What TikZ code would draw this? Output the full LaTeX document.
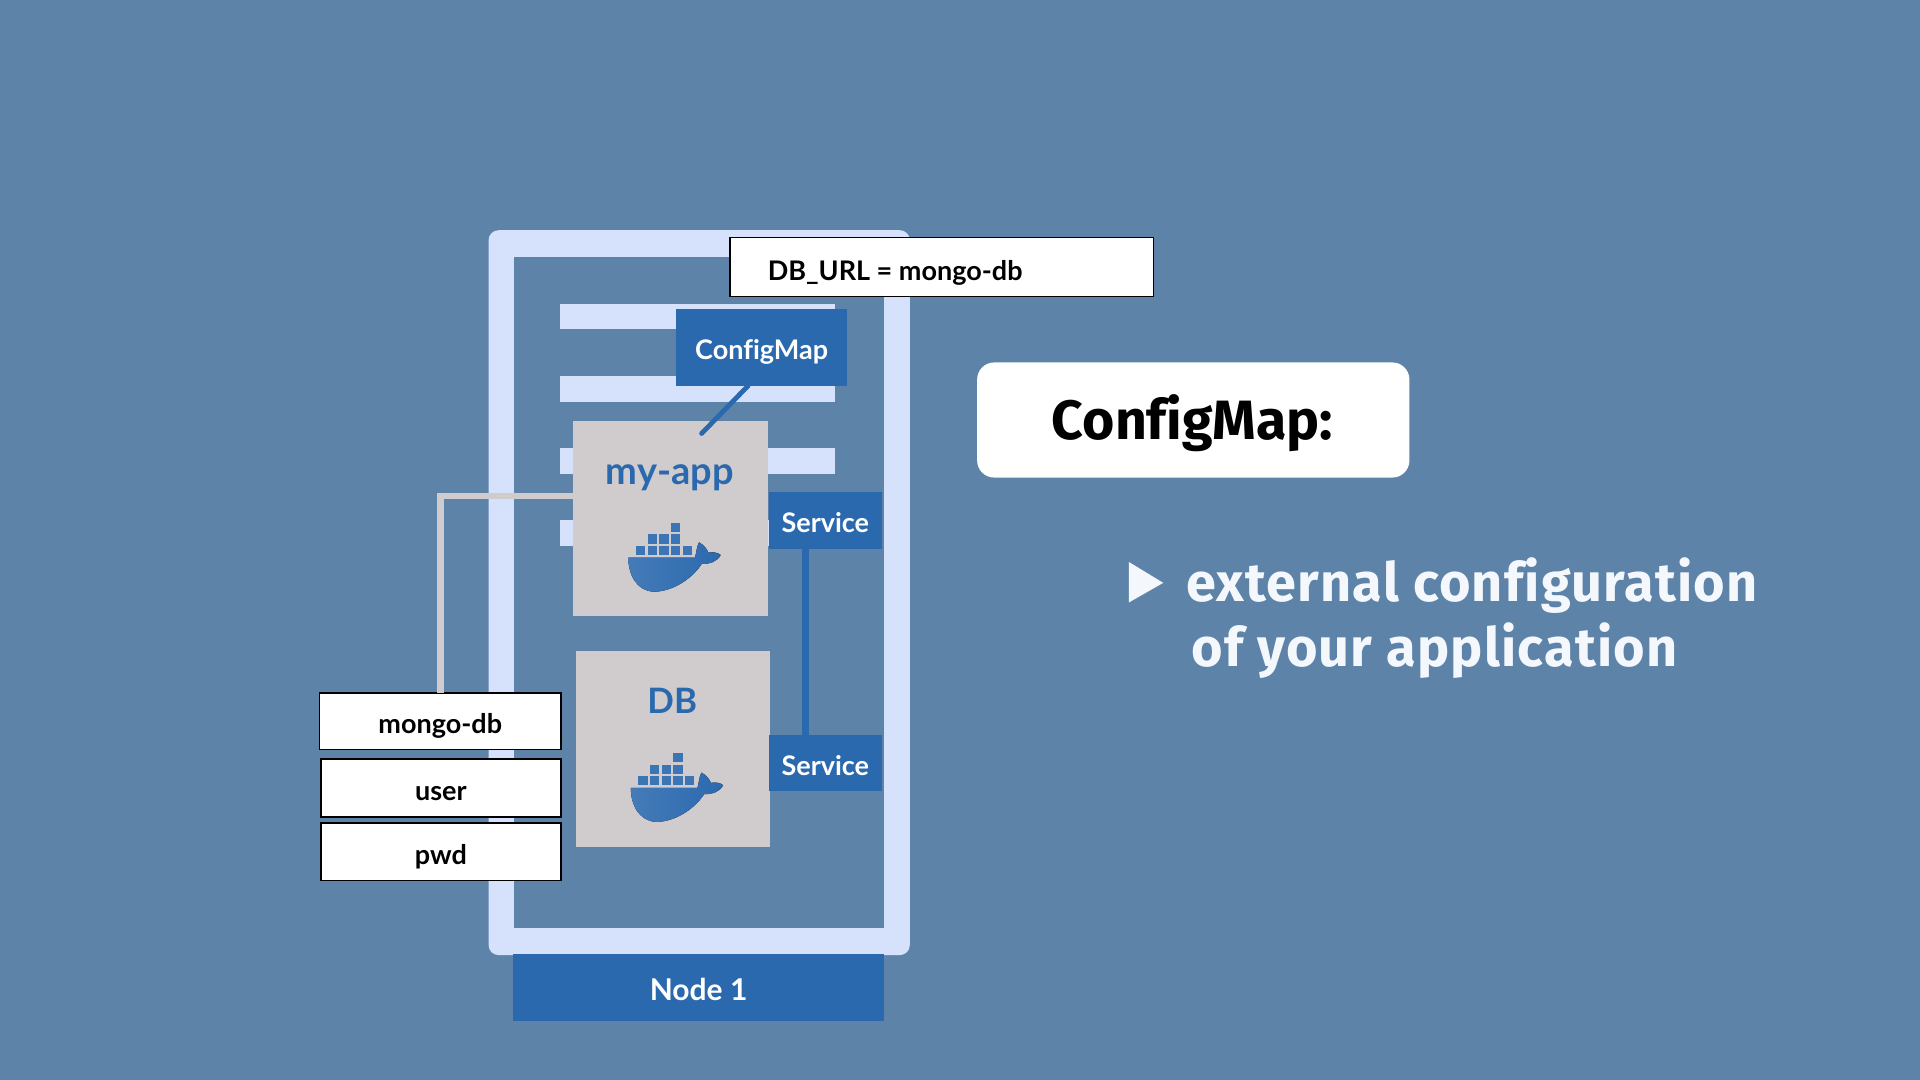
\documentclass[tikz,border=0pt]{standalone}
\usepackage{fontspec}
\setmainfont{Fira Sans}
\newfontfamily\hand[Ligatures=CommonOff]{Lato}
\newfontfamily\head[Ligatures=CommonOff]{Fira Sans}
\definecolor{bg}{HTML}{5D83A9}
\definecolor{framec}{HTML}{D6E2FB}
\definecolor{blue}{HTML}{2B69AE}
\definecolor{greyc}{HTML}{D0CCCD}
\definecolor{soft}{HTML}{F4F7FC}
\def\uu{0.61224pt}
\tikzset{
  every node/.style={inner sep=0pt,outer sep=0pt},
  whitebox/.style={fill=white,draw=black,line width=0.8pt,text=black,font=\hand\bfseries\fontsize{13.5}{16}\selectfont,text height=12.5pt,text depth=0pt},
  bluebox/.style={fill=blue,text=white,font=\hand\bfseries\fontsize{13.5}{16}\selectfont,text height=12.5pt,text depth=0pt},
  appbox/.style={fill=greyc},
  barbox/.style={fill=framec},
  applabel/.style={text=blue,font=\hand\bfseries\fontsize{19}{22}\selectfont},
  headtext/.style={text=soft,font=\head\bfseries\fontsize{27}{30}\addfontfeatures{LetterSpace=2.2}\selectfont,anchor=base west},
  link/.style={line width=3.4pt,blue},
  greylink/.style={line width=3.4pt,greyc},
}
\newcommand{\bx}[7][]{\node[#1,minimum width={(#5-#3)*\uu},minimum height={(#6-#4)*\uu}] (#2) at ({(#3+#5)/2},{(#4+#6)/2}) {#7};}
\newcommand{\whale}[2]{%
\begin{scope}[shift={(#1,#2)},scale=0.2722]
  \foreach \xx in {108,143,178,213,248} \fill[blue!92!white] (\xx,108) rectangle ++(28,26);
  \foreach \xx in {143,178,213} \fill[blue!92!white] (\xx,73) rectangle ++(28,28);
  \fill[blue!92!white] (213,38) rectangle ++(28,28);
  \fill[left color=blue!88!white,right color=blue]
    (85,143) -- (285,143) .. controls (290,125) and (290,110) .. (297,97)
    .. controls (312,105) and (322,118) .. (325,128)
    .. controls (340,125) and (354,128) .. (362,135)
    .. controls (352,155) and (330,162) .. (305,162)
    .. controls (275,208) and (215,246) .. (160,245)
    .. controls (110,242) and (85,195) .. (85,143) -- cycle;
\end{scope}}
\begin{document}
\begin{tikzpicture}[x=\uu,y=-\uu]
\fill[bg] (0,0) rectangle (1568,882);
\useasboundingbox (0,0) rectangle (1568,882);
% frame and inner bars
\bx[fill=framec,rounded corners=5pt]{frame}{399}{188}{743}{780}{}
\bx[fill=bg]{frameinner}{420}{210}{722}{758}{}
\bx[barbox]{barA}{457}{248}{682}{269}{}
\bx[barbox]{barB}{457}{307}{682}{328}{}
\bx[barbox]{barC}{457}{366}{682}{387}{}
\bx[barbox]{barD}{457}{425}{682}{446}{}
% pods
\bx[appbox]{app}{468}{344}{627}{503}{}
\bx[appbox]{db}{470}{532}{629}{692}{}
\node[applabel] (applbl) at (547,390) {my-app};
\node[applabel,font=\hand\bfseries\fontsize{17.5}{20}\selectfont] (dblbl) at (549,572) {DB};
\whale{490}{416.5}
\whale{492}{604.5}
% blue boxes
\bx[bluebox]{cfg}{552}{252}{692}{315}{ConfigMap}
\bx[bluebox]{svcA}{628}{402}{720}{448}{Service}
\bx[bluebox]{svcB}{628}{600}{720}{646}{Service}
\bx[bluebox]{nodeone}{419}{779}{722}{834}{\fontsize{15}{18}\selectfont Node 1}
% white boxes
\bx[whitebox]{mongo}{261}{566}{458}{612}{mongo-db}
\bx[whitebox]{user}{262}{620}{458}{667}{user}
\bx[whitebox]{pwd}{262}{672}{458}{719}{pwd}
\bx[whitebox]{dburl}{596}{194}{942}{242}{}
\node[anchor=base west,text=black,font=\hand\bfseries\fontsize{13.5}{16}\selectfont] (dbtext) at (627,229) {DB\_URL = mongo-db};
% connectors
\coordinate (cfgEnd) at (611,315);
\coordinate (appEnd) at (573,354);
\draw[blue,line width=2.4pt,line cap=round] (cfgEnd) -- (appEnd);
\coordinate (svcTop) at (658,448);
\coordinate (svcBot) at (658,600);
\draw[link] (svcTop) -- (svcBot);
\coordinate (appWest) at (468,405);
\draw[greylink] (appWest) -| (mongo.north);
% heading panel
\bx[fill=white,rounded corners=8.5pt]{panel}{798}{296}{1151}{390}{}
\node[anchor=base west,text=black,font=\head\bfseries\fontsize{27.7}{32}\selectfont] (paneltext) at (859,359) {ConfigMap:};
% bullet
\fill[soft] (922,459) -- (950,476) -- (922,492) -- cycle;
\node[headtext] (lineA) at (969,491) {external configuration};
\node[headtext] (lineB) at (973,544) {of your application};
\end{tikzpicture}
\end{document}
